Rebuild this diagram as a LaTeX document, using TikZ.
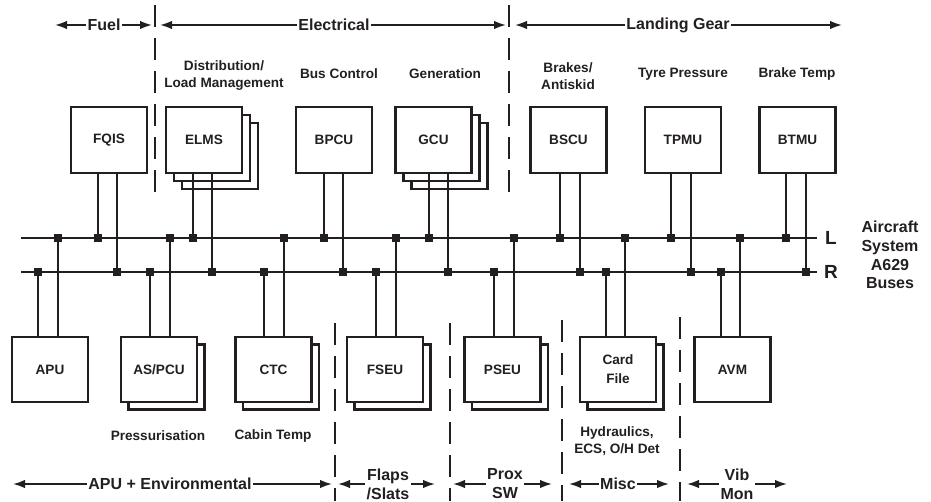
\documentclass[tikz,border=0pt]{standalone}
\usepackage{fontspec}
\setmainfont{Liberation Sans}
\usetikzlibrary{arrows.meta}
\definecolor{ink}{HTML}{231F20}
\newcommand\topstub[3]{\draw[wire] (#1.south -| #2,0) -- (#2,0 |- #3) node[dot]{};}
\newcommand\lowstub[3]{\draw[wire] (#1.north -| #2,0) -- (#2,0 |- #3) node[dot]{};}
\begin{document}
\begin{tikzpicture}[x=1pt,y=-1pt,
 unit/.style={draw=ink, fill=white, line width=2.1pt, minimum width=76pt, minimum height=66pt, inner sep=0pt, font=\fontsize{13.6}{19}\selectfont\bfseries, align=center, text=ink},
 lowunit/.style={unit, minimum height=65pt},
 dot/.style={fill=ink, minimum size=7.5pt, inner sep=0pt, rectangle},
 lbl/.style={font=\fontsize{13.6}{17}\selectfont\bfseries, align=center, inner sep=0pt, text=ink},
 head/.style={font=\fontsize{16}{19}\selectfont\bfseries, align=center, inner sep=1pt, text=ink},
 busname/.style={font=\fontsize{19}{22}\selectfont\bfseries, inner sep=0pt, text=ink},
 arr/.style={-{Latex[length=12pt,width=8.5pt]}, line width=1.8pt, draw=ink},
 divider/.style={line width=1.4pt, dash pattern=on 22pt off 11pt, draw=ink},
 bus/.style={line width=2.1pt, draw=ink},
 wire/.style={line width=2.1pt, draw=ink}
]
\useasboundingbox (0,0) rectangle (931,501);

% ---------- top headings ----------
\node[head] (fuel) at (104,25) {Fuel};
\coordinate (fuelL) at (55,25); \coordinate (fuelR) at (152,25);
\draw[arr] (fuel.west) -- (fuelL); \draw[arr] (fuel.east) -- (fuelR);

\node[head] (elec) at (334,25) {Electrical};
\coordinate (elecL) at (160,25); \coordinate (elecR) at (506,25);
\draw[arr] (elec.west) -- (elecL); \draw[arr] (elec.east) -- (elecR);

\node[head] (lg) at (678,25) {Landing Gear};
\coordinate (lgL) at (515,25); \coordinate (lgR) at (842,25);
\draw[arr] (lg.west) -- (lgL); \draw[arr] (lg.east) -- (lgR);

% top dividers
\coordinate (d1t) at (155,5); \coordinate (d1b) at (155,192);
\coordinate (d2t) at (509,5); \coordinate (d2b) at (509,196);
\draw[divider] (d1t) -- (d1b);
\draw[divider] (d2t) -- (d2b);

% top function labels
\node[lbl] (dist) at (224,76) {Distribution/\\Load Management};
\node[lbl] (busc) at (339,74) {Bus Control};
\node[lbl] (gen) at (445,74) {Generation};
\node[lbl] (brk) at (568,76) {Brakes/\\Antiskid};
\node[lbl] (tyre) at (683,74) {Tyre Pressure};
\node[lbl] (btemp) at (797,74) {Brake Temp};

% ---------- buses ----------
\coordinate (Lw) at (21,238); \coordinate (Le) at (817,238);
\coordinate (Rw) at (21,272); \coordinate (Re) at (817,272);
\draw[bus] (Lw) -- (Le);
\draw[bus] (Rw) -- (Re);
\node[busname] (Lname) at (831,238) {L};
\node[busname] (Rname) at (831,272) {R};
\node[head, font=\fontsize{16}{18.7}\selectfont\bfseries] (a629) at (890,255) {Aircraft\\System\\A629\\Buses};

% ---------- top units ----------
\node[unit] (fqis) at (109,140) {FQIS};

\node[unit] (elms3) at (220,156) {};
\node[unit] (elms2) at (212,148) {};
\node[unit] (elms) at (204,140) {ELMS};

\node[unit] (bpcu) at (334,140) {BPCU};

\node[unit] (gcu3) at (449.5,156) {};
\node[unit] (gcu2) at (441.5,148) {};
\node[unit] (gcu) at (433.5,140) {GCU};

\node[unit] (bscu) at (568.5,140) {BSCU};
\node[unit] (tpmu) at (683,140) {TPMU};
\node[unit] (btmu) at (797.5,140) {BTMU};

\topstub{fqis}{98}{Lw}  \topstub{fqis}{117}{Rw}
\topstub{elms}{193}{Lw} \topstub{elms}{212}{Rw}
\topstub{bpcu}{324}{Lw} \topstub{bpcu}{343}{Rw}
\topstub{gcu}{429}{Lw}  \topstub{gcu}{448}{Rw}
\topstub{bscu}{560}{Lw} \topstub{bscu}{580}{Rw}
\topstub{tpmu}{671}{Lw} \topstub{tpmu}{691}{Rw}
\topstub{btmu}{786}{Lw} \topstub{btmu}{806}{Rw}

% ---------- bottom units ----------
\node[lowunit] (apu) at (50,369.5) {APU};

\node[lowunit] (aspcu2) at (166.5,377) {};
\node[lowunit] (aspcu) at (159,369.5) {AS/PCU};

\node[lowunit] (ctc2) at (281,377) {};
\node[lowunit] (ctc) at (273.5,369.5) {CTC};

\node[lowunit] (fseu2) at (392.5,377) {};
\node[lowunit] (fseu) at (385,369.5) {FSEU};

\node[lowunit] (pseu2) at (510,377) {};
\node[lowunit] (pseu) at (502.5,369.5) {PSEU};

\node[lowunit] (card2) at (625.5,377) {};
\node[lowunit] (card) at (618,369.5) {Card\\File};

\node[lowunit] (avm) at (732.5,369.5) {AVM};

\lowstub{apu}{38}{Rw}    \lowstub{apu}{58}{Lw}
\lowstub{aspcu}{150}{Rw} \lowstub{aspcu}{170}{Lw}
\lowstub{ctc}{264}{Rw}   \lowstub{ctc}{284}{Lw}
\lowstub{fseu}{376}{Rw}  \lowstub{fseu}{396}{Lw}
\lowstub{pseu}{494}{Rw}  \lowstub{pseu}{514}{Lw}
\lowstub{card}{606}{Rw}  \lowstub{card}{625}{Lw}
\lowstub{avm}{721}{Rw}   \lowstub{avm}{740}{Lw}

% bottom function labels
\node[lbl] (press) at (158,436) {Pressurisation};
\node[lbl] (cabin) at (273,436) {Cabin Temp};
\node[lbl] (hyd) at (617,441) {Hydraulics,\\ECS, O/H Det};

% bottom dividers
\coordinate (d3t) at (335,323); \coordinate (d3b) at (335,501);
\coordinate (d4t) at (450,323); \coordinate (d4b) at (450,501);
\coordinate (d5t) at (562,320); \coordinate (d5b) at (562,501);
\coordinate (d6t) at (680,317); \coordinate (d6b) at (680,501);
\draw[divider] (d3t) -- (d3b);
\draw[divider] (d4t) -- (d4b);
\draw[divider] (d5t) -- (d5b);
\draw[divider] (d6t) -- (d6b);

% ---------- bottom headings ----------
\node[head] (env) at (170,484) {APU + Environmental};
\coordinate (envL) at (13,484); \coordinate (envR) at (332,484);
\draw[arr] (env.west) -- (envL); \draw[arr] (env.east) -- (envR);

\node[head] (flaps) at (388,484) {Flaps\\/Slats};
\coordinate (flapsL) at (338,484); \coordinate (flapsR) at (435,484);
\draw[arr] (flaps.west) -- (flapsL); \draw[arr] (flaps.east) -- (flapsR);

\node[head] (prox) at (505,484) {Prox\\SW};
\coordinate (proxL) at (453,484); \coordinate (proxR) at (552,484);
\draw[arr] (prox.west) -- (proxL); \draw[arr] (prox.east) -- (proxR);

\node[head] (misc) at (618,484) {Misc};
\coordinate (miscL) at (569,484); \coordinate (miscR) at (669,484);
\draw[arr] (misc.west) -- (miscL); \draw[arr] (misc.east) -- (miscR);

\node[head] (vib) at (737,484) {Vib\\Mon};
\coordinate (vibL) at (687,484); \coordinate (vibR) at (787,484);
\draw[arr] (vib.west) -- (vibL); \draw[arr] (vib.east) -- (vibR);
\end{tikzpicture}
\end{document}
